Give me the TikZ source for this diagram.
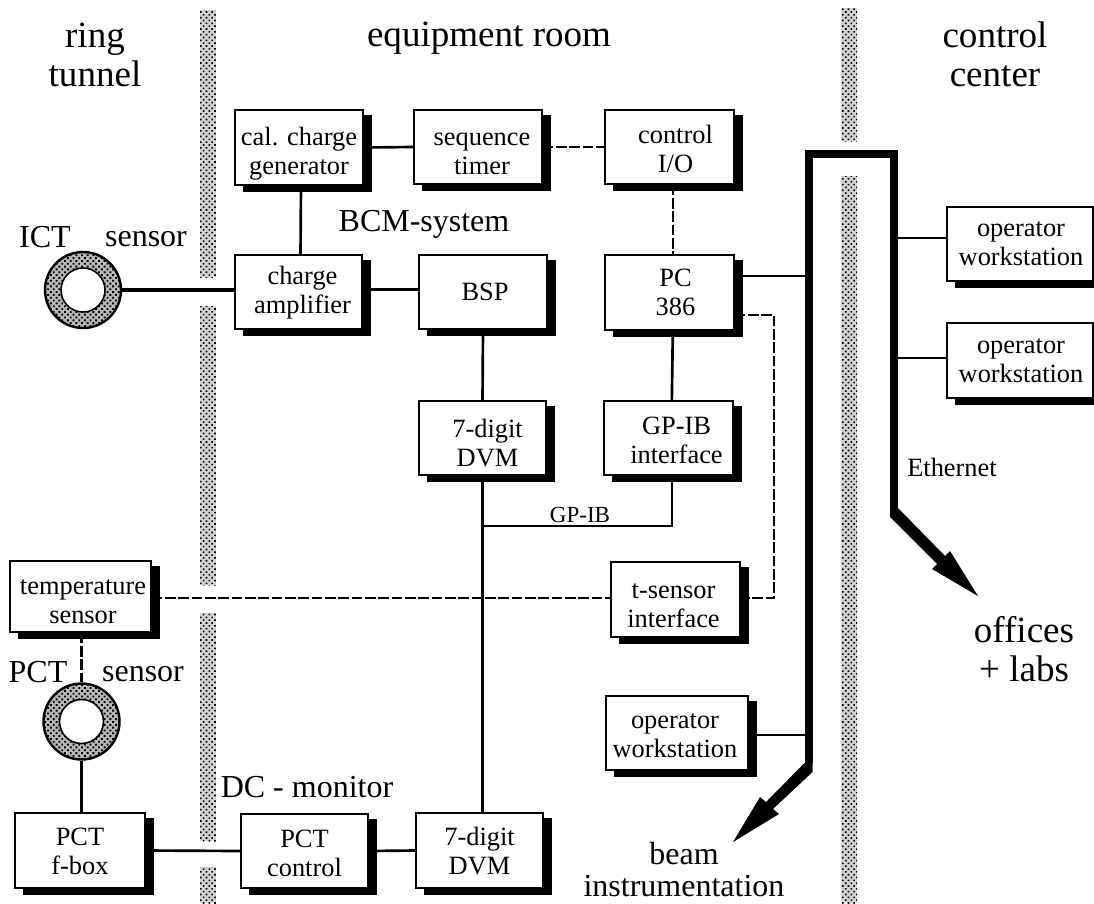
\documentclass[tikz,border=0pt]{standalone}
\usepackage{fontspec}
\setmainfont{Liberation Serif}
\usetikzlibrary{shadows,patterns.meta,calc}
\tikzset{
  x=0.75pt,y=-0.75pt,
  bx/.style={draw=black,line width=1.1pt,fill=white,align=center,inner sep=0pt,font=\fontsize{19.8}{21.5}\selectfont,
    copy shadow={shadow xshift=6.3pt,shadow yshift=-4.5pt,fill=black,draw=black}},
  conn/.style={line width=2pt},
  dconn/.style={line width=2pt,dash pattern=on 8pt off 2pt},
  wall/.style={fill=gray!35,postaction={pattern={Dots[radius=.85pt,distance=3pt,angle=45]},pattern color=black}},
  net/.style={line width=6pt,miter limit=10},
  head/.style={fill=black,draw=none},
  lbig/.style={align=center,inner sep=0pt,font=\fontsize{27.8}{29.5}\selectfont},
  lmid/.style={align=center,inner sep=0pt,font=\fontsize{24}{24}\selectfont},
  lsmall/.style={inner sep=0pt,font=\fontsize{19.8}{24}\selectfont},
  ltiny/.style={inner sep=0pt,font=\fontsize{17.3}{20}\selectfont},
}
% name, left, top, right, bottom, text shift x, text shift y (in reference pixels), text
\newcommand{\bxnode}[8]{%
  \pgfmathsetmacro{\bxcx}{(#2+#4)/2}\pgfmathsetmacro{\bxcy}{(#3+#5)/2}%
  \pgfmathsetmacro{\bxw}{(#4-#2)*0.75}\pgfmathsetmacro{\bxh}{(#5-#3)*0.75}%
  \pgfmathsetmacro{\bxdx}{#6*1.5}\pgfmathsetmacro{\bxdy}{-(#7+3)*0.75}%
  \node[bx,minimum width=\bxw pt,minimum height=\bxh pt] (#1) at (\bxcx,\bxcy)
    {\hspace*{\bxdx pt}\raisebox{\bxdy pt}[\height][\depth]{\begin{tabular}{@{}c@{}}#8\end{tabular}}};}
\newcommand{\ringshape}[3]{%
  \node[circle,minimum size=57pt,inner sep=0pt,fill=gray!55,draw=black,line width=1.8pt,
    postaction={pattern={Dots[radius=1pt,distance=3pt,angle=45]},pattern color=black}] (#1) at (#2,#3) {};
  \node[circle,minimum size=33pt,inner sep=0pt,fill=white,draw=black,line width=1.2pt] at (#2,#3) {};}
\begin{document}
\begin{tikzpicture}
\useasboundingbox (0,0) rectangle (1094,903);
% walls
\fill[wall] (200,10) rectangle (216,277);
\fill[wall] (200,306) rectangle (216,585);
\fill[wall] (200,613) rectangle (216,841);
\fill[wall] (200,867) rectangle (216,903);
\fill[wall] (841,8) rectangle (857,141);
\fill[wall] (841,176) rectangle (857,903);
% boxes
\bxnode{cal}{235}{110}{363}{185}{0}{4}{cal. charge\\generator}
\bxnode{seq}{414}{110}{542}{184}{4}{4.5}{sequence\\timer}
\bxnode{ctl}{605}{110}{734}{184}{6}{2.5}{control\\I/O}
\bxnode{amp}{235}{255}{362}{329}{4}{-2}{charge\\amplifier}
\bxnode{bsp}{419}{255}{547}{329}{2}{0}{BSP}
\bxnode{pc}{605}{255}{734}{330}{6}{0}{PC\\386}
\bxnode{dvma}{419}{401}{546}{475}{5}{5.5}{7-digit\\DVM}
\bxnode{gpib}{604}{401}{733}{475}{8}{2.5}{GP-IB\\interface}
\bxnode{tsi}{611}{562}{740}{637}{-2}{5}{t-sensor\\interface}
\bxnode{temp}{10}{561}{151}{632}{2.5}{3.5}{temperature\\sensor}
\bxnode{fbox}{15}{813}{145}{888}{0}{1}{PCT\\f-box}
\bxnode{pctc}{241}{814}{368}{888}{0}{2.5}{PCT\\control}
\bxnode{dvmb}{416}{813}{543}{888}{0}{1}{7-digit\\DVM}
\bxnode{opa}{947}{207}{1093}{281}{1}{-1.5}{operator\\workstation}
\bxnode{opb}{947}{323}{1093}{398}{1}{-1.5}{operator\\workstation}
\bxnode{opc}{606}{696}{748}{770}{-2}{1}{operator\\workstation}
% rings
\ringshape{ict}{83}{290}
\ringshape{pct}{81.5}{721.5}
% Ethernet
\coordinate (nl) at (808.5,154);
\coordinate (nr) at (894,154);
\coordinate (nlb) at (808.5,763);
\coordinate (nrb) at (894,508);
\draw[net] (nlb) -- (nl) -- (nr) -- (nrb);
\fill[head] (804.5,763) -- (766,802) -- (760,797) -- (733,842) -- (779,814) -- (773,809) -- (812.5,772) -- (812.5,763) -- cycle;
\fill[head] (890,508) -- (890,517) -- (937,564) -- (932,569) -- (978,596) -- (950,551) -- (945,556) -- (898,508) -- cycle;
% connectors
\draw[conn] (cal.east) -- (seq.west);
\draw[dconn] (seq.east) -- (ctl.west);
\draw[conn] ([xshift=1.5pt]cal.south) -- ([xshift=1.5pt]amp.north);
\draw[dconn] ([xshift=2.5pt]ctl.south) -- ([xshift=2.5pt]pc.north);
\draw[line width=3.4pt] (ict.east) -- (ict.east -| amp.west);
\draw[conn] ([yshift=2pt]amp.east) -- ([yshift=2pt]bsp.west);
\draw[conn] (bsp.south) -- (dvma.north);
\draw[conn] ([xshift=2.5pt]pc.south) -- ([xshift=2.5pt]gpib.north);
\coordinate (pcnet) at (808.5,276);
\draw[conn] (pc.east |- pcnet) -- (pcnet);
\coordinate (dj) at (dvma.south |- 0,526);
\draw[conn] (dvma.south) -- (dvma.south |- dvmb.north);
\coordinate (gbs) at ([xshift=2.5pt]gpib.south);
\coordinate (gbc) at (gbs |- dj);
\draw[conn] (gbs) -- (gbc) -- (dj);
\coordinate (pcd) at (774,315);
\coordinate (tsd) at (774,598);
\draw[dconn] (pc.east |- pcd) -- (pcd) -- (tsd) -- (tsi.east |- tsd);
\draw[dconn] (temp.east |- tsd) -- (tsi.west |- tsd);
\draw[dconn] (temp.south -| pct.north) -- (pct.north);
\draw[conn] (pct.south) -- (pct.south |- fbox.north);
\draw[conn] (fbox.east) -- (pctc.west);
\draw[conn] (pctc.east) -- (dvmb.west);
\coordinate (na) at (894,238);
\coordinate (nb) at (894,358);
\coordinate (nc) at (808.5,735);
\draw[conn] (na) -- (na -| opa.west);
\draw[conn] (nb) -- (nb -| opb.west);
\draw[conn] (nc) -- (nc -| opc.east);
% labels
\node[lbig] (t1) at (95,55) {ring\\tunnel};
\node[lbig] (t2) at (489,38) {equipment room};
\node[lbig] (t3) at (995,54) {control\\center};
\node[lmid] (t4) at (424,224) {BCM-system};
\node[lmid] (t5) at (45,237) {ICT};
\node[lmid] (t6) at (146,239) {sensor};
\node[lmid] (t7) at (38,672) {PCT};
\node[lmid] (t8) at (143,674) {sensor};
\node[lmid] (t9) at (307,787) {DC - monitor};
\node[lsmall] (t10) at (952,467) {Ethernet};
\node[ltiny] (t11) at (580,515) {GP-IB};
\node[lbig] (t12) at (1024,649) {offices\\+ labs};
\node[lmid] (t13) at (684,870) {beam\\instrumentation};
\end{tikzpicture}
\end{document}
